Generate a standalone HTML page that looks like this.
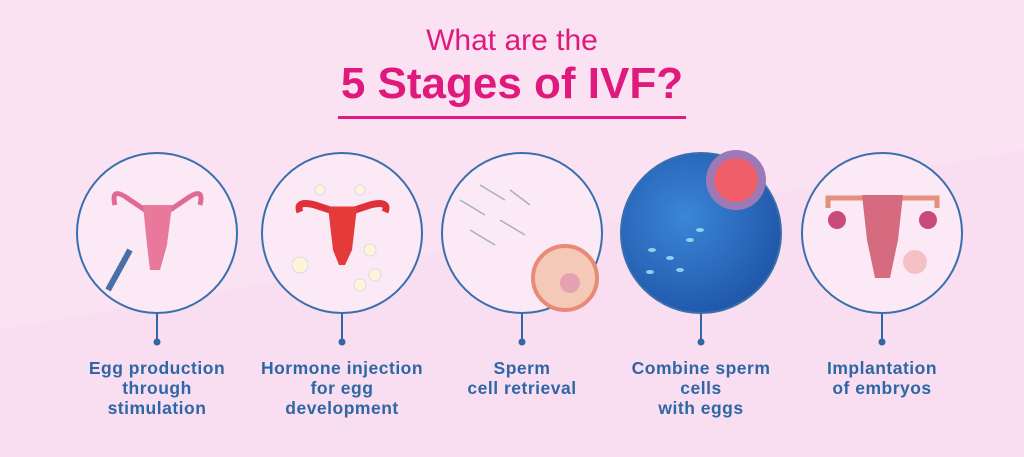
<!DOCTYPE html>
<html><head><style>
body{margin:0;width:1024px;height:457px;overflow:hidden;background:#fae2f3;font-family:"Liberation Sans",sans-serif;position:relative}
.t1{position:absolute;top:24px;width:1024px;text-align:center;color:#e0197d;font-size:30px}
.t2{position:absolute;top:59px;width:1024px;text-align:center;color:#e0197d;font-size:44px;font-weight:bold}
.ul{position:absolute;left:338px;top:116px;width:348px;height:3px;background:#e0197d}
.lab{position:absolute;top:358px;width:220px;text-align:center;color:#2e66a6;font-size:17.5px;line-height:20px;font-weight:bold;letter-spacing:.5px}
</style></head><body>
<svg width="1024" height="457" style="position:absolute;left:0;top:0">
<polygon points="0,330 1024,150 1024,457 0,457" fill="#f6d9ee" opacity=".5"/>
<g stroke="#2e66a6" stroke-width="2">
<line x1="157" y1="313" x2="157" y2="342"/><line x1="342" y1="313" x2="342" y2="342"/>
<line x1="522" y1="313" x2="522" y2="342"/><line x1="701" y1="313" x2="701" y2="342"/>
<line x1="882" y1="313" x2="882" y2="342"/></g>
<g fill="#2e66a6"><circle cx="157" cy="342" r="3.5"/><circle cx="342" cy="342" r="3.5"/><circle cx="522" cy="342" r="3.5"/><circle cx="701" cy="342" r="3.5"/><circle cx="882" cy="342" r="3.5"/></g>
<defs><radialGradient id="bg4" cx="40%" cy="40%" r="65%"><stop offset="0" stop-color="#3b86d8"/><stop offset="1" stop-color="#1f56a8"/></radialGradient></defs>
<g stroke="#3a6fae" stroke-width="2" fill="#fbeaf5">
<circle cx="157" cy="233" r="80"/><circle cx="342" cy="233" r="80"/><circle cx="522" cy="233" r="80"/>
<circle cx="701" cy="233" r="80" fill="url(#bg4)"/><circle cx="882" cy="233" r="80"/></g>
<!-- 1 -->
<path d="M115,205 Q110,185 130,200 L145,210 L170,210 L185,200 Q205,185 200,205" stroke="#e06a94" stroke-width="5" fill="none"/>
<path d="M143,205 L172,205 L167,245 L160,270 L150,270 L147,245Z" fill="#e8799c"/>
<line x1="108" y1="290" x2="130" y2="250" stroke="#4a6fa8" stroke-width="6"/>
<!-- 2 -->
<path d="M300,212 Q295,200 315,205 L330,210 L355,210 L370,205 Q390,200 385,212" stroke="#e0303a" stroke-width="7" fill="none"/>
<path d="M328,207 L357,207 L352,250 L345,265 L339,265 L333,250Z" fill="#e53a3a"/>
<g fill="#fff4d8" stroke="#d8dceb"><circle cx="300" cy="265" r="8"/><circle cx="370" cy="250" r="6"/><circle cx="375" cy="275" r="6"/><circle cx="360" cy="285" r="6"/><circle cx="320" cy="190" r="5"/><circle cx="360" cy="190" r="5"/></g>
<!-- 3 -->
<g stroke="#a6aec8" stroke-width="1.5" fill="none"><path d="M460,200 l25,15"/><path d="M480,185 l25,15"/><path d="M470,230 l25,15"/><path d="M500,220 l25,15"/><path d="M510,190 l20,15"/></g>
<circle cx="565" cy="278" r="32" fill="#f4c9b8" stroke="#e98a76" stroke-width="4"/>
<circle cx="570" cy="283" r="10" fill="#e6a2b0"/>
<!-- 4 -->
<circle cx="736" cy="180" r="30" fill="#9c7ab8"/><circle cx="736" cy="180" r="22" fill="#ee5f6a"/>
<g fill="#8fd1f0"><ellipse cx="652" cy="250" rx="4" ry="2"/><ellipse cx="670" cy="258" rx="4" ry="2"/><ellipse cx="690" cy="240" rx="4" ry="2"/><ellipse cx="680" cy="270" rx="4" ry="2"/><ellipse cx="650" cy="272" rx="4" ry="2"/><ellipse cx="700" cy="230" rx="4" ry="2"/></g>
<!-- 5 -->
<path d="M828,208 L828,198 L937,198 L937,208" stroke="#e68f7a" stroke-width="5" fill="none"/>
<path d="M862,195 L903,195 L898,240 L890,278 L875,278 L867,240Z" fill="#d66b80"/>
<circle cx="837" cy="220" r="9" fill="#c94b7a"/><circle cx="928" cy="220" r="9" fill="#c94b7a"/>
<circle cx="915" cy="262" r="12" fill="#f6c1c6"/>
</svg>
<div class="t1">What are the</div>
<div class="t2">5 Stages of IVF?</div>
<div class="ul"></div>
<div class="lab" style="left:47px">Egg production<br>through<br>stimulation</div>
<div class="lab" style="left:232px">Hormone injection<br>for egg<br>development</div>
<div class="lab" style="left:412px">Sperm<br>cell retrieval</div>
<div class="lab" style="left:591px">Combine sperm<br>cells<br>with eggs</div>
<div class="lab" style="left:772px">Implantation<br>of embryos</div>
</body></html>
